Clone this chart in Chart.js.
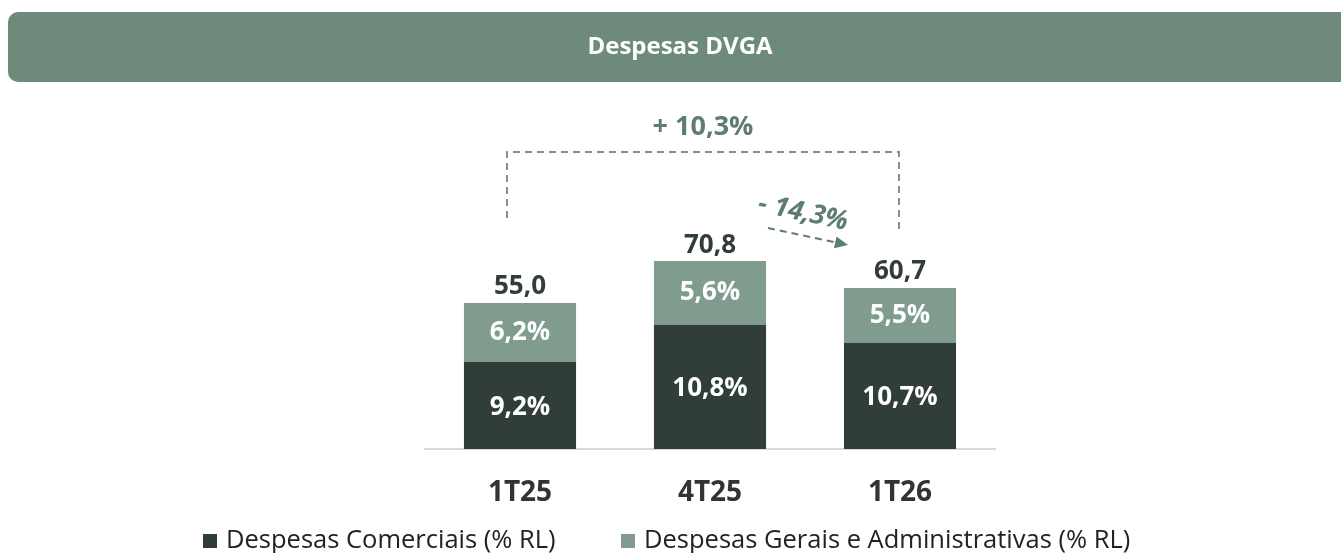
<!DOCTYPE html>
<html>
<head>
<meta charset="utf-8">
<script src="https://cdn.jsdelivr.net/npm/chart.js@4.4.1/dist/chart.umd.min.js"></script>
<style>
    html, body { margin: 0; padding: 0; background: #ffffff; }
    #wrap { width: 1341px; height: 553px; }
</style>
</head>
<body>
<div id="wrap"><canvas id="chartcanvas" width="1341" height="553"></canvas></div>
<script>
// data (R$ mi)
var quarters = ['1T25', '4T25', '1T26'];
var comerciais = [32.8, 46.8, 40.0];
var gerais = [22.2, 24.0, 20.7];
var comerciaisPct = ['9,2%', '10,8%', '10,7%'];
var geraisPct = ['6,2%', '5,6%', '5,5%'];
var seriesNames = ['Despesas Comerciais (% RL)', 'Despesas Gerais e Administrativas (% RL)'];
var variacaoAno = '+ 10,3%';
var variacaoTri = '- 14,3%';
var chartTitle = 'Despesas DVGA';

var FONT = '"Open Sans", "Noto Sans", sans-serif';
var DARK = '#313d38';
var LIGHT = '#7f9c8f';
var ACCENT = '#5f7d6f';

function fmt(v) {
    return v.toFixed(1).replace('.', ',');
}

var labelsPlugin = {
    id: 'dvgaLabels',
    afterDraw: function (chart) {
        var ctx = chart.ctx;
        var m0 = chart.getDatasetMeta(0).data;
        var m1 = chart.getDatasetMeta(1).data;

        ctx.save();

        // title banner
        ctx.fillStyle = '#6d8a7b';
        ctx.beginPath();
        ctx.roundRect(8, 12, 1345, 70, 10);
        ctx.fill();
        ctx.fillStyle = '#ffffff';
        ctx.font = 'bold 24px ' + FONT;
        ctx.textAlign = 'center';
        ctx.textBaseline = 'middle';
        ctx.fillText(chartTitle, 680, 47);

        // segment labels
        ctx.font = 'bold 26px ' + FONT;
        ctx.fillStyle = '#ffffff';
        for (var i = 0; i < quarters.length; i++) {
            var a = m0[i], b = m1[i];
            ctx.fillText(comerciaisPct[i], a.x, (a.y + a.base) / 2 + 2);
            ctx.fillText(geraisPct[i], b.x, (b.y + b.base) / 2);
        }

        // totals
        ctx.fillStyle = '#333d38';
        for (var j = 0; j < quarters.length; j++) {
            var top = m1[j];
            ctx.fillText(fmt(comerciais[j] + gerais[j]), top.x, top.y - 16);
        }

        // bracket 1T25 -> 1T26
        var xl = m0[0].x - 13, xr = m1[2].x - 1;
        var yTop = 152;
        ctx.strokeStyle = '#8c8c8c';
        ctx.lineWidth = 2;
        ctx.setLineDash([7, 5]);
        ctx.beginPath();
        ctx.moveTo(xl, m1[0].y - 85);
        ctx.lineTo(xl, yTop);
        ctx.lineTo(xr, yTop);
        ctx.lineTo(xr, m1[2].y - 56);
        ctx.stroke();

        ctx.fillStyle = ACCENT;
        ctx.font = 'bold 27px ' + FONT;
        ctx.fillText(variacaoAno, (xl + xr) / 2, 127);

        // arrow 4T25 -> 1T26
        var ax0 = 768, ay0 = 228, ax1 = 848, ay1 = 245;
        var ang = Math.atan2(ay1 - ay0, ax1 - ax0);
        ctx.strokeStyle = ACCENT;
        ctx.beginPath();
        ctx.moveTo(ax0, ay0);
        ctx.lineTo(ax1 - 12 * Math.cos(ang), ay1 - 12 * Math.sin(ang));
        ctx.stroke();
        ctx.setLineDash([]);
        ctx.beginPath();
        ctx.moveTo(ax1, ay1);
        ctx.lineTo(ax1 - 13 * Math.cos(ang) + 6 * Math.sin(ang), ay1 - 13 * Math.sin(ang) - 6 * Math.cos(ang));
        ctx.lineTo(ax1 - 13 * Math.cos(ang) - 6 * Math.sin(ang), ay1 - 13 * Math.sin(ang) + 6 * Math.cos(ang));
        ctx.closePath();
        ctx.fill();

        ctx.save();
        ctx.translate(803, 213);
        ctx.rotate(0.21);
        ctx.font = 'italic bold 27px ' + FONT;
        ctx.fillText(variacaoTri, 0, 0);
        ctx.restore();

        // legend
        ctx.font = '25.5px ' + FONT;
        ctx.textAlign = 'left';
        ctx.fillStyle = DARK;
        ctx.fillRect(203, 534, 14, 14);
        ctx.fillStyle = '#222222';
        ctx.fillText(seriesNames[0], 226, 541);
        ctx.fillStyle = LIGHT;
        ctx.fillRect(621, 534, 14, 14);
        ctx.fillStyle = '#222222';
        ctx.fillText(seriesNames[1], 644, 541);

        ctx.restore();
    }
};

var ctx = document.getElementById('chartcanvas');

var chart = new Chart(ctx, {
    type: 'bar',
    data: {
        labels: quarters,
        datasets: [
            {
                label: seriesNames[0],
                data: comerciais,
                backgroundColor: DARK,
                barPercentage: 0.59,
                categoryPercentage: 1.0
            },
            {
                label: seriesNames[1],
                data: gerais,
                backgroundColor: LIGHT,
                barPercentage: 0.59,
                categoryPercentage: 1.0
            }
        ]
    },
    options: {
        responsive: false,
        animation: false,
        layout: {
            padding: { left: 425, right: 346, top: 104, bottom: 0 }
        },
        plugins: {
            legend: { display: false },
            tooltip: { enabled: false }
        },
        scales: {
            x: {
                stacked: true,
                grid: { display: false },
                border: { display: true, color: '#d9d9d9', width: 2 },
                ticks: {
                    color: '#333333',
                    font: { family: FONT, size: 28, weight: 'bold' },
                    padding: 19
                },
                afterFit: function (scale) {
                    scale.height = 104;
                }
            },
            y: {
                stacked: true,
                display: false,
                min: 0,
                max: 130
            }
        }
    },
    plugins: [labelsPlugin]
});
</script>
</body>
</html>
